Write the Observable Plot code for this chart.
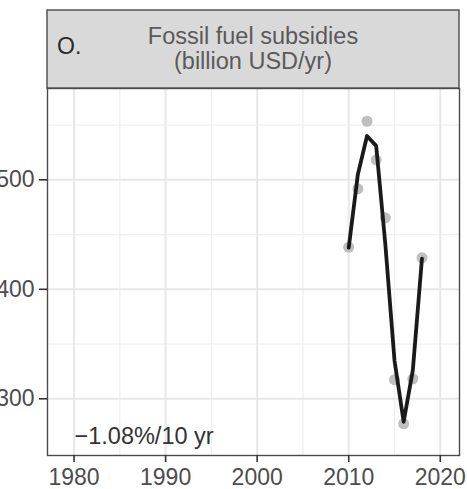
<!DOCTYPE html>
<html>
<head>
<meta charset="utf-8">
<script src="https://cdn.jsdelivr.net/npm/d3@7"></script>
<script src="https://cdn.jsdelivr.net/npm/@observablehq/plot@0.6"></script>
<style>
  html, body { margin: 0; padding: 0; background: #ffffff; }
  #chart svg { display: block; }
</style>
</head>
<body>
<div id="chart"></div>
<script>
// Annual fossil fuel subsidies (billion USD/yr)
const years = [2010, 2011, 2012, 2013, 2014, 2015, 2016, 2017, 2018];
const subsidies = [438.4, 491.8, 553.5, 518.3, 465.3, 317.4, 277.2, 318.3, 428.8];
// Smoothed trend through the annual values
const smoothed = [438, 505, 540, 531, 441, 335, 279, 326, 428];

const xTicks = [1980, 1990, 2000, 2010, 2020];
const xMinor = [1985, 1995, 2005, 2015];
const yTicks = [300, 400, 500];
const yMinor = [350, 450, 550];

const panelLetter = "O.";
const titleLines = ["Fossil fuel subsidies", "(billion USD/yr)"];
const trendLabel = "\u22121.08%/10 yr";

const points = years.map((year, i) => ({year, value: subsidies[i]}));
const trend = years.map((year, i) => ({year, value: smoothed[i]}));

const W = 467, H = 489;
const mL = 47, mR = 8, mT = 88, mB = 34;
const font = "'Liberation Sans', Arial, Helvetica, sans-serif";

const chart = Plot.plot({
  width: W,
  height: H,
  marginLeft: mL,
  marginRight: mR,
  marginTop: mT,
  marginBottom: mB,
  style: {fontFamily: font, fontSize: "23px", background: "#ffffff", overflow: "visible"},
  x: {domain: [1977.1, 2022.1], label: null},
  y: {domain: [248.2, 583.4], label: null},
  marks: [
    Plot.ruleX(xMinor, {stroke: "#f0f0f0", strokeWidth: 1.3}),
    Plot.ruleY(yMinor, {stroke: "#f0f0f0", strokeWidth: 1.3}),
    Plot.ruleX(xTicks, {stroke: "#e8e8e8", strokeWidth: 2}),
    Plot.ruleY(yTicks, {stroke: "#e8e8e8", strokeWidth: 2}),
    Plot.dot(points, {x: "year", y: "value", r: 5.5, fill: "#bfbfbf", stroke: "none"}),
    Plot.line(trend, {x: "year", y: "value", stroke: "#1a1a1a", strokeWidth: 3.8,
      strokeLinejoin: "round", strokeLinecap: "round"}),
    Plot.frame({stroke: "#4a4a4a", strokeWidth: 1.4}),
    Plot.axisX(xTicks, {tickFormat: d => String(d), tickSize: 7, tickPadding: 6,
      stroke: "#333333", strokeWidth: 1.6, fill: "#4d4d4d", fontSize: 23, label: null}),
    Plot.axisY(yTicks, {tickFormat: d => String(d), tickSize: 8, tickPadding: 5,
      stroke: "#333333", strokeWidth: 1.6, fill: "#4d4d4d", fontSize: 23, label: null}),
    Plot.text([trendLabel], {frameAnchor: "bottom-left", textAnchor: "start",
      lineAnchor: "bottom", dx: 27, dy: -12, fill: "#333333", fontSize: 23.5})
  ]
});

// Facet strip above the panel
const svg = d3.select(chart);
const strip = svg.append("g");
const plotW = W - mL - mR;
strip.append("rect")
  .attr("x", mL).attr("y", 10)
  .attr("width", plotW).attr("height", mT - 10)
  .attr("fill", "#d9d9d9").attr("stroke", "#4a4a4a").attr("stroke-width", 1.4);
strip.append("text")
  .attr("x", 57).attr("y", 53.5)
  .attr("text-anchor", "start")
  .attr("fill", "#2b2b2b").attr("font-size", 23)
  .attr("font-family", font)
  .text(panelLetter);
titleLines.forEach((t, i) => {
  strip.append("text")
    .attr("x", mL + plotW / 2).attr("y", 43.5 + i * 25)
    .attr("text-anchor", "middle")
    .attr("fill", "#5a5a5a").attr("font-size", 23.5)
    .attr("font-family", font)
    .text(t);
});

document.getElementById("chart").appendChild(chart);
</script>
</body>
</html>
